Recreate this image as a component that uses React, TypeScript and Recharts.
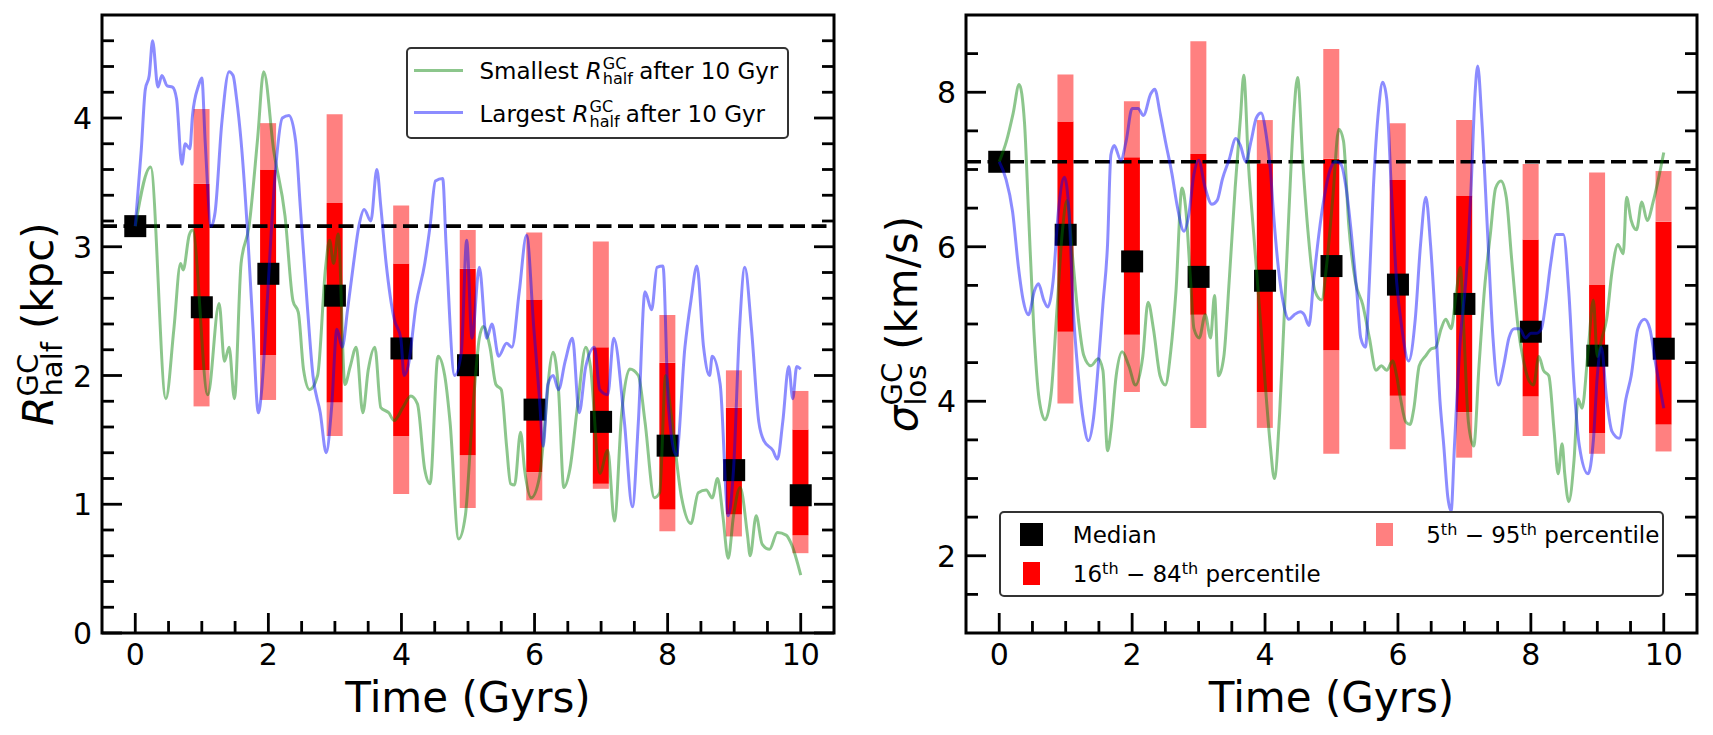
import React from 'react';
import {
  ComposedChart,
  Bar,
  Line,
  XAxis,
  YAxis,
  ReferenceLine,
  ReferenceArea,
  Legend,
  Label,
} from 'recharts';

const FONT = "'DejaVu Sans', sans-serif";

// snapshot times (Gyr); percentile bars only exist from t = 1
const snapTimes = [0, 1, 2, 3, 4, 5, 6, 7, 8, 9, 10];

// left panel: R_half (kpc)
const rInitial = 3.16;
const rMedian = [3.16, 2.53, 2.79, 2.62, 2.21, 2.08, 1.735, 1.64, 1.455, 1.265, 1.07];
const rP5 = [1.76, 1.81, 1.53, 1.08, 0.97, 1.03, 1.12, 0.79, 0.75, 0.62];
const rP16 = [2.04, 2.16, 1.79, 1.53, 1.38, 1.25, 1.16, 0.96, 0.92, 0.76];
const rP84 = [3.49, 3.6, 3.34, 2.87, 2.83, 2.59, 2.22, 2.1, 1.75, 1.58];
const rP95 = [4.07, 3.96, 4.03, 3.32, 3.13, 3.11, 3.04, 2.47, 2.04, 1.88];

const rSmallest: [number, number][] = [
  [0, 3.16], [0.23, 3.62], [0.46, 1.82], [0.58, 2.36], [0.68, 2.87], [0.72, 2.82], [0.81, 3.09], [0.86, 3.13],
  [1.09, 1.85], [1.26, 2.56], [1.34, 2.11], [1.41, 2.22], [1.49, 1.82], [1.59, 2.87], [1.71, 3.16], [1.84, 3.85],
  [1.93, 4.36], [2.08, 3.75], [2.25, 3.24], [2.37, 2.58], [2.45, 2.49], [2.53, 2.04], [2.62, 1.89], [2.74, 2.0],
  [2.86, 2.84], [2.92, 3.05], [2.98, 2.87], [3.05, 3.1], [3.15, 1.93], [3.23, 2.07], [3.32, 2.22], [3.42, 1.71],
  [3.5, 2.04], [3.6, 2.22], [3.69, 1.75], [3.81, 1.71], [3.89, 1.65], [4.02, 1.75], [4.14, 1.84], [4.24, 1.78],
  [4.35, 1.27], [4.43, 1.16], [4.55, 2.15], [4.65, 2.0], [4.73, 1.64], [4.86, 0.73], [4.96, 0.91], [5.06, 1.64],
  [5.17, 2.29], [5.23, 2.38], [5.33, 2.22], [5.42, 1.93], [5.5, 1.89], [5.58, 1.45], [5.64, 1.16], [5.7, 1.15],
  [5.79, 1.56], [5.85, 1.27], [5.95, 1.05], [6.07, 1.2], [6.28, 2.18], [6.36, 1.89], [6.44, 1.13], [6.53, 1.27],
  [6.65, 1.78], [6.77, 2.22], [6.84, 2.07], [6.98, 1.24], [7.1, 1.42], [7.2, 0.87], [7.31, 1.71], [7.43, 2.05],
  [7.56, 2.0], [7.66, 1.64], [7.8, 1.05], [7.88, 1.09], [7.97, 2.0], [8.05, 1.71], [8.21, 1.05], [8.35, 0.85],
  [8.46, 1.09], [8.58, 1.11], [8.67, 1.05], [8.75, 1.2], [8.83, 0.91], [8.91, 0.58], [8.99, 0.91], [9.09, 1.13],
  [9.2, 0.76], [9.24, 0.6], [9.33, 0.91], [9.42, 0.69], [9.53, 0.65], [9.65, 0.78], [9.78, 0.76], [9.86, 0.69],
  [10, 0.45],
];

const rLargest: [number, number][] = [
  [0, 3.16], [0.09, 3.75], [0.15, 4.22], [0.21, 4.33], [0.26, 4.6], [0.34, 4.24], [0.4, 4.33], [0.48, 4.25],
  [0.56, 4.24], [0.62, 4.15], [0.7, 3.64], [0.75, 3.8], [0.82, 3.76], [0.86, 4.02], [0.95, 4.25], [1.0, 4.31],
  [1.05, 3.82], [1.14, 3.16], [1.2, 3.27], [1.3, 3.96], [1.41, 4.36], [1.47, 4.33], [1.52, 4.16], [1.59, 3.82],
  [1.69, 3.09], [1.77, 2.36], [1.85, 1.71], [1.9, 1.89], [1.96, 2.36], [2.04, 3.09], [2.12, 3.67], [2.21, 4.0],
  [2.31, 4.02], [2.41, 3.82], [2.48, 3.31], [2.58, 2.58], [2.67, 2.0], [2.78, 1.71], [2.87, 1.4], [2.95, 1.75],
  [3.03, 2.36], [3.11, 2.22], [3.19, 2.51], [3.28, 2.87], [3.36, 3.16], [3.44, 3.29], [3.54, 3.2], [3.63, 3.6],
  [3.69, 3.31], [3.77, 2.87], [3.89, 2.44], [3.99, 2.29], [4.04, 2.0], [4.1, 2.07], [4.22, 2.55], [4.35, 2.87],
  [4.43, 3.16], [4.51, 3.51], [4.62, 3.53], [4.67, 3.02], [4.8, 2.0], [4.9, 2.18], [4.98, 3.05], [5.06, 2.29],
  [5.17, 2.84], [5.28, 2.29], [5.36, 2.4], [5.46, 2.15], [5.58, 2.25], [5.66, 2.22], [5.77, 2.65], [5.88, 3.09],
  [5.99, 2.36], [6.07, 1.85], [6.13, 1.45], [6.2, 1.93], [6.28, 2.0], [6.36, 1.89], [6.46, 2.11], [6.57, 2.29],
  [6.67, 1.71], [6.77, 2.07], [6.9, 2.22], [6.98, 1.89], [7.1, 1.85], [7.19, 2.29], [7.35, 1.64], [7.47, 0.98],
  [7.56, 1.64], [7.66, 2.65], [7.76, 2.51], [7.84, 2.84], [7.93, 2.85], [8.01, 1.78], [8.13, 1.38], [8.26, 2.22],
  [8.35, 2.58], [8.44, 2.85], [8.54, 2.22], [8.63, 2.0], [8.67, 2.15], [8.79, 1.93], [8.91, 0.91], [8.99, 1.27],
  [9.08, 2.36], [9.16, 2.84], [9.26, 2.36], [9.37, 1.64], [9.45, 1.49], [9.58, 1.42], [9.65, 1.35], [9.73, 1.64],
  [9.82, 2.07], [9.88, 1.82], [9.94, 2.07], [10, 2.05],
];

// right panel: sigma_los (km/s)
const sInitial = 7.1;
const sMedian = [7.1, 6.155, 5.81, 5.61, 5.56, 5.75, 5.51, 5.26, 4.9, 4.59, 4.68];
const sP5 = [3.97, 4.12, 3.655, 3.655, 3.32, 3.38, 3.27, 3.55, 3.32, 3.35];
const sP16 = [4.9, 4.86, 5.12, 4.12, 4.66, 4.07, 3.86, 4.06, 3.59, 3.7];
const sP84 = [7.62, 7.16, 7.2, 7.08, 7.14, 6.865, 6.665, 6.095, 5.505, 6.325];
const sP95 = [8.23, 7.885, 8.66, 7.64, 8.56, 7.6, 7.64, 7.07, 6.96, 6.98];

const sSmallest: [number, number][] = [
  [0, 7.1], [0.11, 7.37], [0.21, 7.73], [0.3, 8.1], [0.38, 7.61], [0.44, 6.46], [0.52, 4.94], [0.6, 4.03],
  [0.69, 3.76], [0.78, 4.09], [0.87, 5.2], [0.95, 6.2], [1.02, 6.6], [1.1, 5.9], [1.2, 5.0], [1.27, 4.6],
  [1.38, 4.46], [1.49, 4.55], [1.56, 4.4], [1.63, 3.36], [1.68, 3.61], [1.76, 4.33], [1.85, 4.64], [1.95, 4.46],
  [2.05, 4.21], [2.16, 4.58], [2.24, 5.28], [2.32, 4.94], [2.42, 4.33], [2.5, 4.21], [2.58, 4.64], [2.66, 5.43],
  [2.75, 6.76], [2.81, 6.46], [2.88, 5.55], [2.93, 4.94], [3.01, 4.82], [3.1, 5.12], [3.18, 4.82], [3.24, 5.37],
  [3.3, 4.33], [3.38, 4.58], [3.46, 5.55], [3.55, 6.76], [3.63, 7.67], [3.68, 8.22], [3.75, 7.07], [3.83, 6.16],
  [3.94, 4.94], [4.02, 4.03], [4.08, 3.42], [4.14, 3.0], [4.22, 3.85], [4.28, 4.94], [4.36, 6.46], [4.43, 7.67],
  [4.49, 8.19], [4.57, 7.07], [4.65, 6.16], [4.75, 5.43], [4.85, 5.31], [4.93, 5.79], [5.02, 6.64], [5.11, 7.52],
  [5.18, 7.37], [5.26, 6.28], [5.36, 5.55], [5.47, 5.25], [5.57, 4.82], [5.67, 4.4], [5.75, 4.46], [5.83, 4.4],
  [5.92, 4.52], [5.98, 4.33], [6.04, 4.03], [6.12, 3.73], [6.18, 3.7], [6.24, 3.91], [6.32, 4.46], [6.41, 4.58],
  [6.49, 4.67], [6.57, 4.7], [6.65, 4.94], [6.72, 5.06], [6.8, 4.94], [6.88, 5.43], [6.94, 5.73], [6.99, 4.94],
  [7.06, 3.73], [7.14, 3.42], [7.22, 4.46], [7.3, 5.43], [7.39, 6.16], [7.47, 6.76], [7.55, 6.85], [7.63, 6.64],
  [7.71, 5.85], [7.81, 4.94], [7.89, 4.52], [7.97, 4.27], [8.04, 4.21], [8.12, 4.58], [8.19, 4.4], [8.27, 4.33],
  [8.35, 3.61], [8.41, 3.06], [8.47, 3.45], [8.51, 3.06], [8.57, 2.7], [8.65, 3.24], [8.71, 4.03], [8.77, 3.91],
  [8.86, 4.64], [8.94, 5.31], [9.0, 4.58], [9.07, 4.82], [9.14, 5.06], [9.22, 5.67], [9.31, 6.03], [9.39, 5.91],
  [9.44, 6.64], [9.51, 6.34], [9.59, 6.22], [9.67, 6.58], [9.75, 6.34], [9.84, 6.58], [9.92, 6.88], [10, 7.22],
];

const sLargest: [number, number][] = [
  [0, 7.1], [0.1, 6.88], [0.2, 6.46], [0.29, 5.73], [0.36, 5.31], [0.44, 5.12], [0.53, 5.43], [0.59, 5.52],
  [0.67, 5.31], [0.73, 5.22], [0.81, 5.55], [0.89, 6.46], [0.98, 6.9], [1.05, 6.46], [1.11, 5.25], [1.19, 4.33],
  [1.27, 3.73], [1.34, 3.49], [1.42, 3.79], [1.49, 4.46], [1.56, 5.25], [1.63, 6.03], [1.68, 7.19], [1.73, 7.31],
  [1.83, 7.12], [1.91, 7.37], [2.0, 7.79], [2.09, 7.79], [2.17, 7.7], [2.28, 7.98], [2.34, 8.04], [2.42, 7.73],
  [2.5, 7.37], [2.6, 6.94], [2.68, 6.52], [2.78, 6.2], [2.85, 6.4], [2.93, 6.94], [3.0, 7.12], [3.1, 6.76],
  [3.2, 6.55], [3.28, 6.6], [3.36, 6.88], [3.46, 7.13], [3.56, 7.4], [3.63, 7.31], [3.71, 7.1], [3.79, 7.37],
  [3.87, 7.67], [3.94, 7.73], [4.02, 7.43], [4.08, 7.0], [4.13, 6.4], [4.2, 5.73], [4.28, 5.25], [4.36, 5.06],
  [4.44, 5.12], [4.53, 5.16], [4.59, 5.12], [4.66, 4.98], [4.73, 5.55], [4.81, 6.16], [4.89, 6.64], [4.98, 7.0],
  [5.06, 7.1], [5.14, 7.07], [5.22, 6.76], [5.3, 6.16], [5.38, 5.43], [5.44, 4.82], [5.51, 4.7], [5.57, 5.55],
  [5.63, 6.76], [5.71, 7.79], [5.77, 8.13], [5.83, 7.92], [5.9, 6.76], [5.98, 5.55], [6.06, 4.94], [6.16, 4.52],
  [6.26, 5.06], [6.34, 6.03], [6.42, 6.64], [6.49, 6.03], [6.57, 4.94], [6.63, 4.03], [6.69, 3.42], [6.75, 2.76],
  [6.8, 2.58], [6.85, 3.42], [6.94, 4.82], [7.02, 5.55], [7.1, 6.76], [7.16, 7.98], [7.2, 8.34], [7.26, 7.67],
  [7.35, 6.16], [7.43, 4.82], [7.51, 4.21], [7.59, 4.46], [7.67, 4.82], [7.75, 4.94], [7.83, 4.94], [7.92, 4.82],
  [8.0, 4.88], [8.08, 4.88], [8.16, 4.94], [8.22, 5.25], [8.3, 5.79], [8.38, 6.16], [8.49, 6.16], [8.57, 5.43],
  [8.65, 4.21], [8.73, 3.42], [8.86, 3.06], [8.94, 3.49], [9.0, 4.33], [9.06, 4.7], [9.14, 4.03], [9.22, 3.61],
  [9.33, 3.52], [9.43, 4.03], [9.51, 4.33], [9.61, 4.94], [9.71, 5.06], [9.79, 4.94], [9.87, 4.52], [10, 3.91],
];

// ticks
const xTicks = [0, 0.5, 1, 1.5, 2, 2.5, 3, 3.5, 4, 4.5, 5, 5.5, 6, 6.5, 7, 7.5, 8, 8.5, 9, 9.5, 10];
const xTickLabels = [0, 2, 4, 6, 8, 10];
const rTicks = [0, 0.2, 0.4, 0.6, 0.8, 1, 1.2, 1.4, 1.6, 1.8, 2, 2.2, 2.4, 2.6, 2.8, 3, 3.2, 3.4, 3.6, 3.8, 4, 4.2, 4.4, 4.6];
const rTickLabels = [0, 1, 2, 3, 4];
const sTicks = [1.5, 2, 2.5, 3, 3.5, 4, 4.5, 5, 5.5, 6, 6.5, 7, 7.5, 8, 8.5];
const sTickLabels = [2, 4, 6, 8];

const GREEN = '#008000';
const BLUE = '#0000ff';
const LINE_ALPHA = 0.45;
const PINK = '#ff8080';
const RED = '#ff0000';

const toPts = (arr: [number, number][]) => arr.map(([t, v]) => ({ t, v }));
const toBars = (p5: number[], p16: number[], p84: number[], p95: number[]) =>
  snapTimes.slice(1).map((t, i) => ({
    t,
    base: p5[i],
    low: p16[i] - p5[i],
    mid: p84[i] - p16[i],
    high: p95[i] - p84[i],
  }));
const toMed = (m: number[]) => snapTimes.map((t, i) => ({ t, v: m[i] }));

const XTick = (props: any) => {
  const { x, y, payload } = props;
  const major = xTickLabels.includes(payload.value);
  return (
    <g>
      <line x1={x} x2={x} y1={y} y2={y - (major ? 20 : 12)} stroke="#000" strokeWidth={2.8} />
      {major && (
        <text x={x} y={y + 32} textAnchor="middle" fontSize={30} fontFamily={FONT} fill="#000">
          {payload.value}
        </text>
      )}
    </g>
  );
};

const makeYTick = (labels: number[], side: 'left' | 'right') => (props: any) => {
  const { x, y, payload } = props;
  const major = labels.includes(payload.value);
  const len = major ? 20 : 12;
  const dir = side === 'left' ? 1 : -1;
  return (
    <g>
      <line x1={x} x2={x + dir * len} y1={y} y2={y} stroke="#000" strokeWidth={2.8} />
      {major && side === 'left' && (
        <text x={x - 10} y={y + 11} textAnchor="end" fontSize={30} fontFamily={FONT} fill="#000">
          {payload.value}
        </text>
      )}
    </g>
  );
};

const XLabel = ({ viewBox }: any) => (
  <text
    x={viewBox.x + viewBox.width / 2}
    y={viewBox.y + 79}
    textAnchor="middle"
    fontSize={42}
    fontFamily={FONT}
    fill="#000"
  >
    Time (Gyrs)
  </text>
);

const RLabel = ({ viewBox }: any) => {
  const bx = viewBox.x + viewBox.width - 49;
  const cy = viewBox.y + viewBox.height / 2;
  return (
    <text transform={`rotate(-90 ${bx} ${cy})`} x={bx} y={cy} textAnchor="middle" fontSize={42} fontFamily={FONT} fill="#000">
      <tspan fontStyle="italic">R</tspan>
      <tspan fontSize={29} dy={-15}>GC</tspan>
      <tspan fontSize={29} dx={-42.7} dy={24}>half</tspan>
      <tspan dx={13} dy={-9}>(kpc)</tspan>
    </text>
  );
};

const SLabel = ({ viewBox }: any) => {
  const bx = viewBox.x + viewBox.width - 49;
  const cy = viewBox.y + viewBox.height / 2;
  return (
    <text transform={`rotate(-90 ${bx} ${cy})`} x={bx} y={cy} textAnchor="middle" fontSize={42} fontFamily={FONT} fill="#000">
      <tspan fontStyle="italic">σ</tspan>
      <tspan fontSize={29} dy={9}>los</tspan>
      <tspan fontSize={29} dx={-40.9} dy={-24}>GC</tspan>
      <tspan dx={13} dy={15}>(km/s)</tspan>
    </text>
  );
};

const Square = (props: any) =>
  props.cx == null ? <g key={props.index} /> : (
    <rect key={props.index} x={props.cx - 11} y={props.cy - 11} width={22} height={22} fill="#000" />
  );

const RScript = () => (
  <>
    <i>R</i>
    <span style={{ position: 'relative', display: 'inline-block', width: 30, height: 23 }}>
      <span style={{ position: 'absolute', left: 1, top: 0, fontSize: 16, lineHeight: '16px' }}>GC</span>
      <span style={{ position: 'absolute', left: 1, top: 15, fontSize: 16, lineHeight: '16px' }}>half</span>
    </span>
  </>
);

const lineEntries = [
  { color: GREEN, word: 'Smallest' },
  { color: BLUE, word: 'Largest' },
];

const LeftLegend = () => (
  <div
    style={{
      position: 'relative',
      width: 383,
      height: 92,
      boxSizing: 'border-box',
      border: '2.5px solid #333',
      borderRadius: 5,
      background: '#fff',
      fontFamily: FONT,
      fontSize: 23,
      color: '#000',
    }}
  >
    {lineEntries.map((e, i) => (
      <React.Fragment key={e.word}>
        <div
          style={{
            position: 'absolute',
            left: 5.5,
            top: 20 + i * 42,
            width: 49,
            height: 3,
            background: e.color,
            opacity: LINE_ALPHA,
          }}
        />
        <div style={{ position: 'absolute', left: 71.5, top: 7 + i * 42.5, lineHeight: '26px', whiteSpace: 'nowrap' }}>
          {e.word} <RScript /> after 10 Gyr
        </div>
      </React.Fragment>
    ))}
  </div>
);

const Th = () => (
  <span style={{ position: 'relative', top: '-0.45em', fontSize: '0.7em' }}>th</span>
);

const RightLegend = () => (
  <div
    style={{
      position: 'relative',
      width: 665,
      height: 86,
      boxSizing: 'border-box',
      border: '2.5px solid #333',
      borderRadius: 5,
      background: '#fff',
      fontFamily: FONT,
      fontSize: 23,
      color: '#000',
      whiteSpace: 'nowrap',
    }}
  >
    <div style={{ position: 'absolute', left: 18.5, top: 9.5, width: 23, height: 23, background: '#000' }} />
    <div style={{ position: 'absolute', left: 71.8, top: 8.6, lineHeight: '26px' }}>Median</div>
    <div style={{ position: 'absolute', left: 21.5, top: 48.5, width: 17, height: 23, background: RED }} />
    <div style={{ position: 'absolute', left: 71.8, top: 47.6, lineHeight: '26px' }}>
      16<Th /> − 84<Th /> percentile
    </div>
    <div style={{ position: 'absolute', left: 375.2, top: 9.5, width: 17, height: 23, background: PINK }} />
    <div style={{ position: 'absolute', left: 425.2, top: 8.6, lineHeight: '26px' }}>
      5<Th /> − 95<Th /> percentile
    </div>
  </div>
);

interface PanelProps {
  width: number;
  margin: { top: number; right: number; bottom: number; left: number };
  yDomain: [number, number];
  yTicks: number[];
  yTickLabels: number[];
  bars: ReturnType<typeof toBars>;
  medians: { t: number; v: number }[];
  smallest: [number, number][];
  largest: [number, number][];
  refY: number;
  yLabel: (p: any) => React.ReactElement;
  legend: React.ReactElement;
  legendPos: { left: number; top: number };
}

function Panel(p: PanelProps) {
  return (
    <ComposedChart width={p.width} height={735} data={p.bars} margin={p.margin}>
      <XAxis
        type="number"
        dataKey="t"
        domain={[-0.5, 10.5]}
        ticks={xTicks}
        interval={0}
        tick={XTick}
        tickLine={false}
        axisLine={false}
        tickSize={0}
        tickMargin={0}
        height={40}
        allowDataOverflow
      >
        <Label content={XLabel} />
      </XAxis>
      {/* separate hidden x axis so the bar width is computed from the 1 Gyr spacing only */}
      <XAxis xAxisId="bars" type="number" dataKey="t" domain={[-0.5, 10.5]} hide allowDataOverflow />
      <YAxis
        yAxisId="l"
        type="number"
        domain={p.yDomain}
        ticks={p.yTicks}
        interval={0}
        tick={makeYTick(p.yTickLabels, 'left')}
        tickLine={false}
        axisLine={false}
        tickSize={0}
        tickMargin={0}
        width={60}
        allowDataOverflow
      >
        <Label content={p.yLabel} />
      </YAxis>
      <YAxis
        yAxisId="r"
        orientation="right"
        type="number"
        domain={p.yDomain}
        ticks={p.yTicks}
        interval={0}
        tick={makeYTick(p.yTickLabels, 'right')}
        tickLine={false}
        axisLine={false}
        tickSize={0}
        tickMargin={0}
        width={2}
        allowDataOverflow
      />
      <Bar xAxisId="bars" yAxisId="l" dataKey="base" stackId="pct" barSize={16} fill="transparent" isAnimationActive={false} />
      <Bar xAxisId="bars" yAxisId="l" dataKey="low" stackId="pct" barSize={16} fill={PINK} isAnimationActive={false} />
      <Bar xAxisId="bars" yAxisId="l" dataKey="mid" stackId="pct" barSize={16} fill={RED} isAnimationActive={false} />
      <Bar xAxisId="bars" yAxisId="l" dataKey="high" stackId="pct" barSize={16} fill={PINK} isAnimationActive={false} />
      <Line
        yAxisId="l"
        data={p.medians}
        dataKey="v"
        stroke="none"
        dot={Square}
        activeDot={false}
        isAnimationActive={false}
        zIndex={350}
      />
      <Line
        yAxisId="l"
        data={toPts(p.smallest)}
        dataKey="v"
        type="monotone"
        stroke={GREEN}
        strokeOpacity={LINE_ALPHA}
        strokeWidth={3}
        dot={false}
        activeDot={false}
        isAnimationActive={false}
        zIndex={700}
      />
      <Line
        yAxisId="l"
        data={toPts(p.largest)}
        dataKey="v"
        type="monotone"
        stroke={BLUE}
        strokeOpacity={LINE_ALPHA}
        strokeWidth={3}
        dot={false}
        activeDot={false}
        isAnimationActive={false}
        zIndex={700}
      />
      <ReferenceLine yAxisId="l" y={p.refY} stroke="#000" strokeWidth={3.6} strokeDasharray="15 6.5" />
      <ReferenceArea
        yAxisId="l"
        x1={-0.5}
        x2={10.5}
        y1={p.yDomain[0]}
        y2={p.yDomain[1]}
        fill="none"
        stroke="#000"
        strokeWidth={3}
        ifOverflow="visible"
      />
      <Legend
        layout="vertical"
        align="center"
        verticalAlign="middle"
        content={() => p.legend}
        wrapperStyle={{ left: p.legendPos.left, top: p.legendPos.top, width: 'auto', height: 'auto' }}
      />
    </ComposedChart>
  );
}

export default function App() {
  return (
    <div style={{ position: 'absolute', left: 0, top: 0, width: 1713, height: 735, background: '#fff', display: 'flex' }}>
      <Panel
        width={856}
        margin={{ top: 15, right: 20, bottom: 62, left: 42 }}
        yDomain={[0, 4.8]}
        yTicks={rTicks}
        yTickLabels={rTickLabels}
        bars={toBars(rP5, rP16, rP84, rP95)}
        medians={toMed(rMedian)}
        smallest={rSmallest}
        largest={rLargest}
        refY={rInitial}
        yLabel={RLabel}
        legend={<LeftLegend />}
        legendPos={{ left: 406, top: 47 }}
      />
      <Panel
        width={857}
        margin={{ top: 15, right: 14, bottom: 62, left: 50 }}
        yDomain={[1, 9]}
        yTicks={sTicks}
        yTickLabels={sTickLabels}
        bars={toBars(sP5, sP16, sP84, sP95)}
        medians={toMed(sMedian)}
        smallest={sSmallest}
        largest={sLargest}
        refY={sInitial}
        yLabel={SLabel}
        legend={<RightLegend />}
        legendPos={{ left: 143, top: 511 }}
      />
    </div>
  );
}
